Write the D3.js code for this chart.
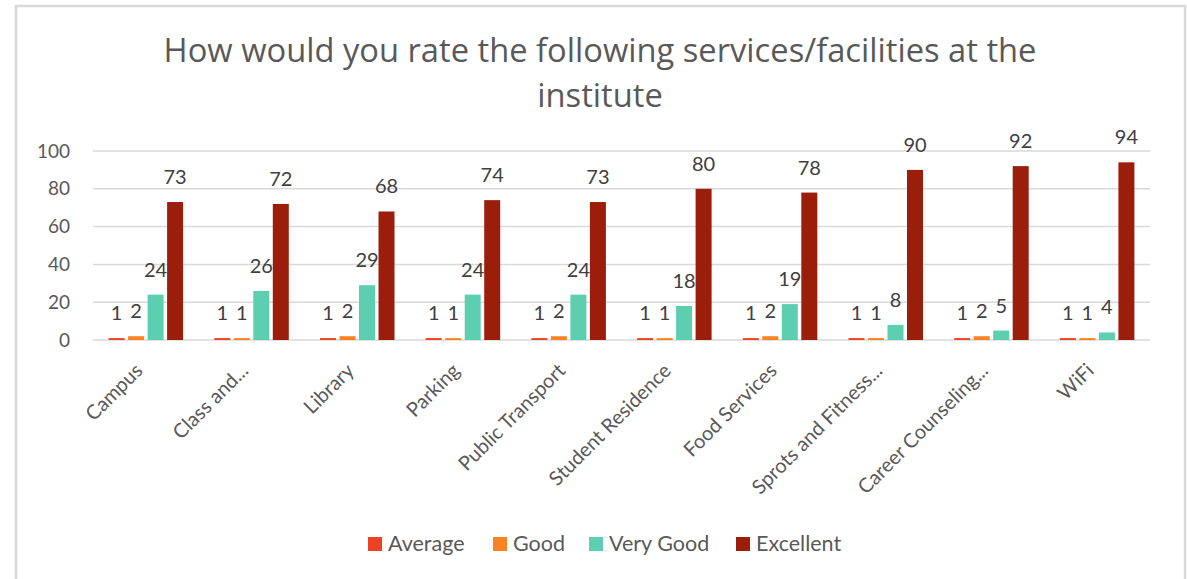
<!DOCTYPE html>
<html>
<head>
<meta charset="utf-8">
<script src="https://cdn.jsdelivr.net/npm/d3@7"></script>
<style>
  html, body { margin: 0; padding: 0; background: #fff; }
  svg { display: block; font-family: Lato, "Open Sans", sans-serif; }
</style>
</head>
<body>
<svg id="chart" width="1187" height="579"></svg>
<script>
const categories = ["Campus", "Class and...", "Library", "Parking", "Public Transport", "Student Residence", "Food Services", "Sprots and Fitness...", "Career Counseling...", "WiFi"];
const seriesNames = ["Average", "Good", "Very Good", "Excellent"];
const averageValues = [1, 1, 1, 1, 1, 1, 1, 1, 1, 1];
const goodValues = [2, 1, 2, 1, 2, 1, 2, 1, 2, 1];
const veryGoodValues = [24, 26, 29, 24, 24, 18, 19, 8, 5, 4];
const excellentValues = [73, 72, 68, 74, 73, 80, 78, 90, 92, 94];
const yTicks = [0, 20, 40, 60, 80, 100];
const colors = ["#EF4125", "#FD8224", "#5DCFB0", "#9A1E0A"];

const seriesValues = [averageValues, goodValues, veryGoodValues, excellentValues];

const svg = d3.select("#chart");

// chart border
svg.append("rect").attr("x", 16).attr("y", 6).attr("width", 1169).attr("height", 600)
  .attr("fill", "none").attr("stroke", "#d9d9d9").attr("stroke-width", 2.5);

const plot = { left: 93, right: 1150, top: 151, bottom: 340 };

const x0 = d3.scaleBand().domain(categories).range([plot.left, plot.right]).paddingInner(0).paddingOuter(0);
const x1 = d3.scaleBand().domain(seriesNames).range([0, x0.bandwidth()]).paddingInner(0.18).paddingOuter(0.8);
const y = d3.scaleLinear().domain([0, 100]).range([plot.bottom, plot.top]);

// gridlines
svg.append("g").selectAll("line").data(yTicks).join("line")
  .attr("x1", plot.left).attr("x2", plot.right)
  .attr("y1", d => y(d)).attr("y2", d => y(d))
  .attr("stroke", "#d9d9d9").attr("stroke-width", 1.5);

// y axis labels
const yAxis = d3.axisLeft(y).tickValues(yTicks).tickSize(0).tickPadding(23);
const yg = svg.append("g").attr("transform", `translate(${plot.left},0)`).call(yAxis);
yg.select(".domain").remove();
yg.selectAll("text").attr("font-size", 19).attr("fill", "#595959").attr("font-family", "Lato, sans-serif");

// bars
const groups = svg.append("g").selectAll("g").data(categories).join("g")
  .attr("transform", d => `translate(${x0(d)},0)`);

groups.each(function(cat, ci) {
  const g = d3.select(this);
  seriesNames.forEach((s, si) => {
    const v = seriesValues[si][ci];
    g.append("rect")
      .attr("x", x1(s)).attr("width", x1.bandwidth())
      .attr("y", y(v)).attr("height", y(0) - y(v))
      .attr("fill", colors[si]);
    g.append("text")
      .attr("x", x1(s) + x1.bandwidth() / 2)
      .attr("y", y(v) - 18)
      .attr("text-anchor", "middle")
      .attr("font-size", 20)
      .attr("fill", "#404040")
      .text(v);
  });
});

// x axis labels
const xg = svg.append("g");
categories.forEach(c => {
  const cx = x0(c) + x0.bandwidth() / 2 - 7;
  xg.append("text")
    .attr("transform", `translate(${cx},${plot.bottom + 27}) rotate(-45)`)
    .attr("text-anchor", "end")
    .attr("dy", "0.35em")
    .attr("font-size", 20)
    .attr("fill", "#595959")
    .text(c);
});

// title
const title = svg.append("text").attr("text-anchor", "middle").attr("font-size", 32.7)
  .attr("fill", "#595959").attr("font-family", "'Open Sans', sans-serif");
title.append("tspan").attr("x", 600).attr("y", 62).text("How would you rate the following services/facilities at the");
title.append("tspan").attr("x", 600).attr("y", 107).text("institute");

// legend
const legendItems = [
  { name: "Average", x: 368 },
  { name: "Good", x: 493 },
  { name: "Very Good", x: 589 },
  { name: "Excellent", x: 736 }
];
const lg = svg.append("g");
legendItems.forEach((it, i) => {
  lg.append("rect").attr("x", it.x).attr("y", 537).attr("width", 14).attr("height", 14).attr("fill", colors[i]);
  lg.append("text").attr("x", it.x + 20).attr("y", 551).attr("font-size", 21.5).attr("fill", "#595959").text(it.name);
});
</script>
</body>
</html>
